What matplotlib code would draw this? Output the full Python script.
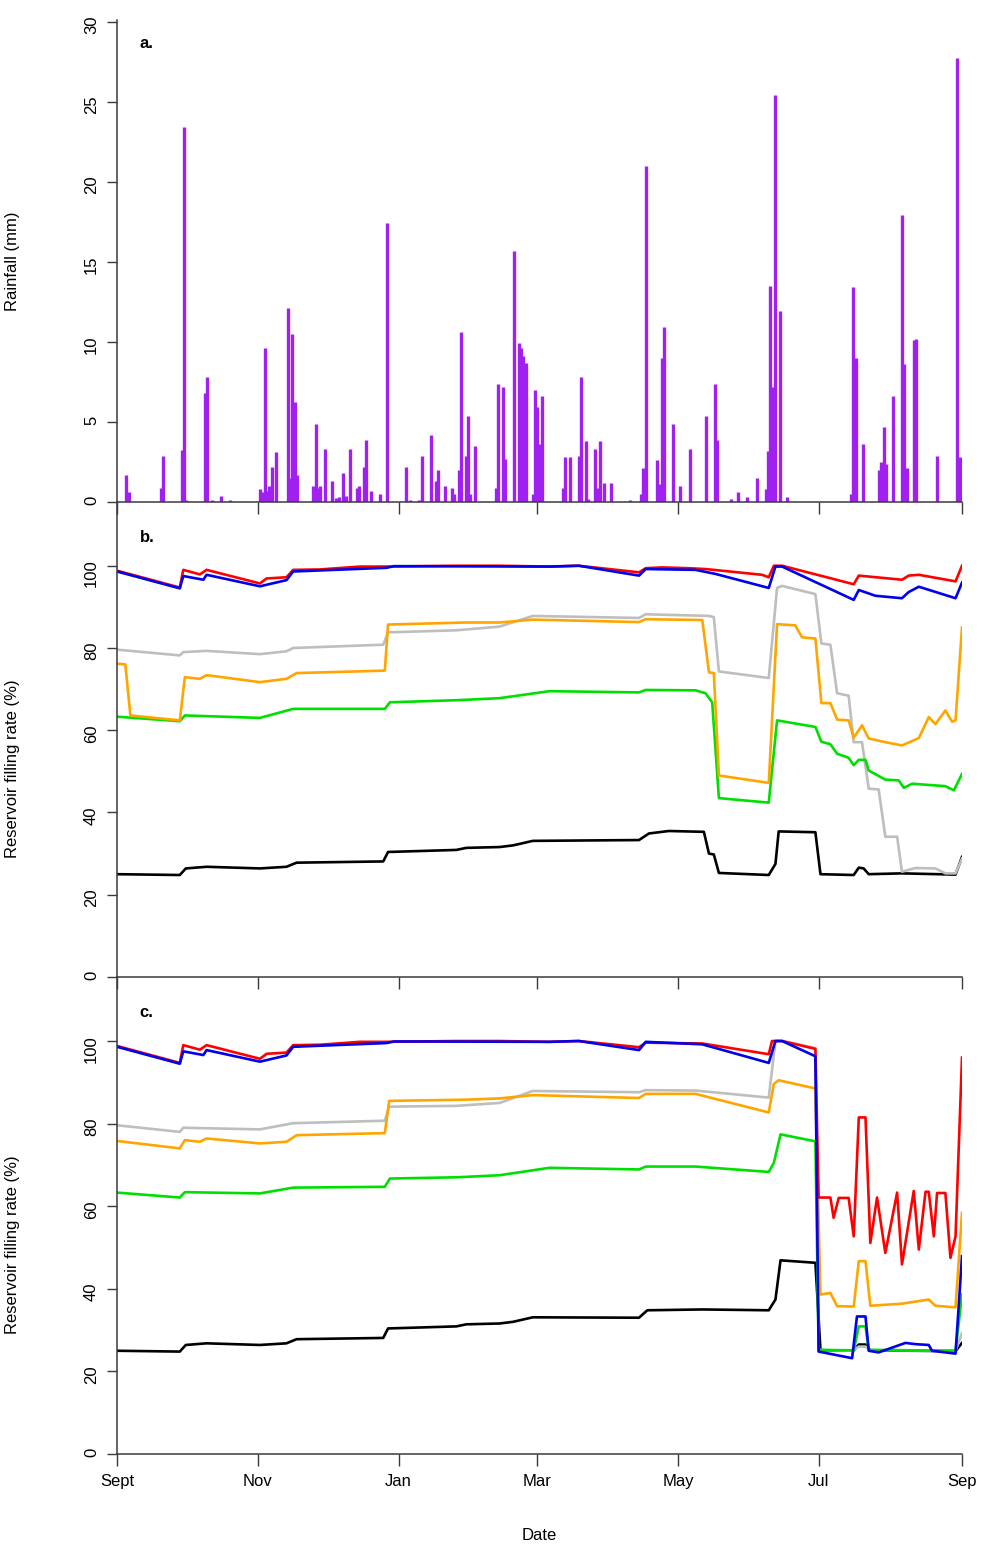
import matplotlib
matplotlib.use("Agg")
import matplotlib.pyplot as plt

plt.rcParams["font.family"] = ["Liberation Sans", "DejaVu Sans"]

# ---- x axis: days since 1 September (leap year, 366 days) ----
month_days = [0, 61, 122, 182, 243, 304, 366]
month_labels = ["Sept", "Nov", "Jan", "Mar", "May", "Jul", "Sep"]

# ---- panel a: daily rainfall ----
rain_day = [4, 5, 19, 20, 28, 29, 30, 38, 39, 41, 45, 49,
            62, 63, 64, 65, 66, 67, 69, 74, 75, 76, 77, 78,
            85, 86, 87, 88, 90, 93, 95, 96, 98, 99, 101, 104, 105, 107, 108, 110, 114, 117,
            125, 127, 131, 132, 136, 138, 139, 142, 145, 146, 148, 149, 151, 152, 153, 155,
            164, 165, 167, 168, 172, 174, 175, 176, 177, 180, 181, 182, 183, 184,
            193, 194, 196, 200, 201, 203, 204, 207, 208, 209, 211, 214, 222,
            227, 228, 229, 234, 235, 236, 237, 241, 244, 248, 255, 259, 260,
            266, 269, 273, 277, 281, 282, 283, 284, 285, 287, 290,
            318, 319, 320, 323, 330, 331, 332, 333, 336, 340, 341, 342, 345, 346, 355, 364, 365]
rain_mm = [1.7, 0.6, 0.9, 2.9, 3.25, 23.4, 0.1, 6.8, 7.8, 0.1, 0.4, 0.1,
           0.8, 0.6, 9.6, 0.7, 1.0, 2.2, 3.1, 12.1, 1.5, 10.5, 6.25, 1.7,
           1.0, 4.9, 0.9, 1.0, 3.3, 1.3, 0.25, 0.3, 1.8, 0.4, 3.3, 0.9, 1.0, 2.2, 3.9, 0.7, 0.5, 17.4,
           2.2, 0.1, 0.1, 2.9, 4.2, 1.3, 2.0, 1.0, 0.9, 0.5, 2.0, 10.6, 2.9, 5.4, 0.5, 3.5,
           0.9, 7.4, 7.2, 2.7, 15.7, 9.9, 9.6, 9.1, 8.7, 0.5, 7.0, 5.95, 3.6, 6.6,
           0.9, 2.8, 2.8, 2.9, 7.8, 3.8, 0.2, 3.3, 0.9, 3.8, 1.2, 1.2, 0.1,
           0.5, 2.1, 21.0, 2.6, 1.1, 9.0, 10.9, 4.9, 1.0, 3.3, 5.4, 7.4, 3.9,
           0.2, 0.6, 0.3, 1.5, 0.8, 3.2, 13.5, 7.2, 25.4, 11.9, 0.3,
           0.5, 13.4, 9.0, 3.6, 2.0, 2.5, 4.7, 2.4, 6.6, 17.9, 8.6, 2.1, 10.1, 10.2, 2.9, 27.7, 2.8]

# ---- panel b: reservoir filling rate, scenario b ----
b_red_day = [0, 27.2, 28.7, 35.9, 38.8, 61.9, 64.8, 73.4, 76.3, 87.9, 105.2, 116.7, 147, 165.7, 187.3,
             200, 226.1, 229, 236.1, 247.7, 254.9, 279.4, 282.3, 284.5, 288.1, 319.1, 321.3, 340, 342.9,
             347.3, 363.2, 366]
b_red_val = [98.8, 94.7, 99.0, 97.9, 99.0, 95.7, 96.9, 97.2, 99.0, 99.1, 99.8, 99.8, 100, 100, 99.8,
             100, 98.4, 99.4, 99.6, 99.4, 99.2, 97.8, 97.2, 100, 100, 95.5, 97.6, 96.6, 97.6,
             97.8, 96.2, 100]
b_blue_day = [0, 27.2, 28.7, 37.4, 38.8, 61.9, 73.4, 76.3, 116.7, 120, 187.3, 200, 226.1, 229, 250.6,
              259.3, 282.3, 285.2, 288.1, 319.1, 321.3, 328.5, 340, 342.9, 347.3, 363.2, 366]
b_blue_val = [98.6, 94.5, 97.5, 96.6, 97.8, 95.0, 96.5, 98.6, 99.5, 99.9, 99.8, 100, 97.6, 99.2, 99.0,
              98.0, 94.6, 99.8, 99.8, 91.7, 94.1, 92.7, 92.1, 93.6, 94.9, 92.1, 95.9]
b_grey_day = [0, 27.2, 28.7, 38.8, 61.9, 73.4, 76.3, 115.3, 117.4, 147, 165.7, 180.1, 226.1, 229,
              256.4, 258.5, 260.7, 282.3, 285.9, 288.1, 302.5, 305.1, 309, 311.9, 316.9, 319.1, 322.7,
              325.6, 329.9, 332.8, 337.9, 340, 345.8, 354.5, 358.8, 363.2, 366]
b_grey_val = [79.6, 78.2, 79.0, 79.3, 78.5, 79.2, 80.0, 80.8, 83.8, 84.3, 85.2, 87.8, 87.3, 88.2,
              87.8, 87.5, 74.3, 72.7, 94.6, 95.1, 93.1, 81.1, 80.8, 69.0, 68.4, 57.1, 57.1,
              45.8, 45.6, 34.1, 34.1, 25.6, 26.5, 26.4, 25.2, 25.2, 28.8]
b_orange_day = [0, 3.6, 5.8, 27.2, 29.4, 35.9, 38.8, 61.9, 73.4, 77.8, 116, 117.4, 151.3, 165.7, 180.1,
                226.1, 229, 253.5, 256.4, 258.5, 260.7, 282.3, 285.9, 293.8, 296.7, 302.5, 305.1, 309,
                311.9, 316.9, 319.1, 322.7, 325.6, 332.8, 340, 347.3, 351.6, 354.5, 358.8, 361.7,
                363.2, 366]
b_orange_val = [76.2, 76.0, 63.6, 62.4, 72.9, 72.5, 73.4, 71.7, 72.5, 73.9, 74.5, 85.7, 86.2, 86.2, 86.9,
                86.3, 87.0, 86.8, 74.1, 73.9, 49.0, 47.2, 85.8, 85.5, 82.6, 82.3, 66.6, 66.6,
                62.6, 62.4, 58.2, 61.2, 58.0, 57.1, 56.3, 58.1, 63.2, 61.5, 64.8, 62.1,
                62.4, 85.0]
b_green_day = [0, 27.2, 29.4, 61.9, 76.3, 116, 118.2, 147, 165.7, 187.3, 226.1, 229, 250.6, 254.9,
               257.8, 260.7, 282.3, 285.9, 302.5, 305.1, 309, 311.9, 316.9, 319.1, 321.3, 324.2,
               325.6, 332.8, 338.6, 340.8, 344.4, 358.8, 362.5, 366]
b_green_val = [63.3, 62.2, 63.6, 63.0, 65.2, 65.2, 66.8, 67.3, 67.8, 69.5, 69.2, 69.8, 69.7, 69.0,
               66.8, 43.5, 42.4, 62.4, 60.8, 57.2, 56.6, 54.3, 53.3, 51.5, 52.8, 52.8,
               50.2, 48.0, 47.8, 46.0, 47.0, 46.4, 45.4, 49.4]
b_black_day = [0, 27.2, 29.8, 38.8, 61.9, 73.4, 77.8, 115.3, 117.4, 147, 151.3, 165.7, 171.5, 180.1,
               226.1, 230.4, 239, 254.2, 256.4, 258.5, 260.7, 282.3, 285.2, 286.6, 302.5, 304.7,
               319.1, 321.3, 323.4, 325.6, 340, 363.2, 366]
b_black_val = [25.0, 24.8, 26.4, 26.8, 26.4, 26.8, 27.8, 28.1, 30.4, 30.9, 31.4, 31.6, 32.0, 33.1,
               33.3, 34.9, 35.5, 35.3, 30.0, 29.8, 25.3, 24.8, 27.5, 35.4, 35.2, 25.0,
               24.8, 26.6, 26.4, 25.0, 25.2, 24.9, 29.2]

# ---- panel c: reservoir filling rate, scenario c ----
c_red_day = [0, 27.2, 28.7, 35.9, 38.8, 61.9, 64.8, 73.4, 76.3, 87.9, 105.2, 116.7, 147, 165.7, 187.3,
             200, 226.1, 229, 253.5, 282.3, 283.7, 288.1, 302.5, 303.9, 309, 310.4, 312.6, 316.9,
             319.1, 321.3, 324.2, 326.3, 329.2, 332.8, 337.9, 340, 345.1, 347.3, 350.2, 351.6,
             353.8, 355.2, 358.8, 361, 363.2, 366]
c_red_val = [98.8, 94.7, 99.0, 97.9, 99.0, 95.7, 96.9, 97.2, 99.0, 99.1, 99.8, 99.8, 100, 100, 99.8,
             100, 98.5, 99.6, 99.4, 96.8, 100, 100, 98.1, 62.1, 62.1, 57.2, 62.0, 62.0,
             52.7, 81.5, 81.5, 51.1, 62.1, 48.7, 63.3, 45.9, 63.7, 49.5, 63.5, 63.5,
             52.7, 63.2, 63.2, 47.5, 52.7, 96.0]
c_blue_day = [0, 27.2, 28.7, 37.4, 38.8, 61.9, 73.4, 76.3, 116.7, 120, 187.3, 200, 226.1, 229, 253.5,
              282.3, 285.2, 288.1, 302.5, 303.9, 318.4, 320.5, 324.2, 325.6, 329.9, 341.5, 345.8,
              351.6, 353, 363.2, 366]
c_blue_val = [98.6, 94.5, 97.5, 96.6, 97.8, 95.0, 96.5, 98.6, 99.5, 99.9, 99.8, 100, 97.8, 99.8, 99.2,
              94.7, 100, 100, 96.3, 24.8, 23.2, 33.3, 33.3, 25.0, 24.6, 26.9, 26.6,
              26.4, 25.0, 24.3, 47.9]
c_grey_day = [0, 27.2, 28.7, 61.9, 76.3, 116, 117.9, 147, 165.7, 180.1, 226.1, 229, 250.6, 282.3,
              285.2, 288.1, 302.5, 303.9, 318.4, 321.3, 324.2, 326.3, 363.2, 366]
c_grey_val = [79.6, 78.0, 79.0, 78.6, 80.1, 80.7, 84.1, 84.3, 85.0, 87.9, 87.6, 88.1, 88.0, 86.3,
              100, 100, 98.3, 25.2, 25.0, 26.0, 26.0, 25.2, 25.0, 29.3]
c_orange_day = [0, 27.2, 29.4, 35.9, 38.8, 61.9, 73.4, 77.8, 116, 117.9, 151.3, 165.7, 180.1, 226.1,
                229, 250.6, 282.3, 284.5, 286.6, 302.5, 304.7, 309, 311.9, 319.1, 321.3, 324.2,
                326.3, 340, 351.6, 354.5, 363.2, 366]
c_orange_val = [75.8, 74.0, 76.0, 75.6, 76.4, 75.2, 75.6, 77.2, 77.7, 85.5, 85.8, 86.1, 86.9, 86.2,
                87.2, 87.2, 82.7, 89.6, 90.5, 88.5, 38.6, 39.0, 35.8, 35.7, 46.7, 46.7,
                35.9, 36.4, 37.4, 35.9, 35.5, 58.4]
c_green_day = [0, 27.2, 29.4, 61.9, 76.3, 116, 118.2, 147, 165.7, 187.3, 226.1, 229, 250.6, 282.3,
               284.5, 287.4, 302.5, 303.9, 319.1, 321.3, 324.2, 325.6, 363.2, 366]
c_green_val = [63.3, 62.1, 63.4, 63.1, 64.5, 64.7, 66.7, 67.0, 67.5, 69.3, 68.9, 69.6, 69.6, 68.3,
               70.5, 77.4, 75.7, 25.2, 25.1, 30.9, 30.9, 25.2, 25.0, 38.6]
c_black_day = [0, 27.2, 29.8, 38.8, 61.9, 73.4, 77.8, 115.3, 117.4, 147, 151.3, 165.7, 171.5, 180.1,
               226.1, 229.7, 253.5, 282.3, 285.2, 287.4, 302.5, 304.7, 319.1, 321.3, 324.2, 326.3,
               363.2, 366]
c_black_val = [25.0, 24.8, 26.4, 26.8, 26.4, 26.8, 27.8, 28.1, 30.4, 30.9, 31.4, 31.6, 32.0, 33.1,
               33.0, 34.8, 35.0, 34.8, 37.4, 46.9, 46.3, 25.1, 25.1, 26.5, 26.5, 25.1,
               24.9, 26.9]

# ---- figure ----
W, H = 982, 1545
fig = plt.figure(figsize=(W / 100, H / 100), dpi=100)

left_px, right_px = 117, 962


def axes_px(top, bottom):
    return fig.add_axes([left_px / W, (H - bottom) / H,
                         (right_px - left_px) / W, (bottom - top) / H])


ax_a = axes_px(20, 502)
ax_b = axes_px(502, 977)
ax_c = axes_px(977, 1454)

axis_col = "#3a3a3a"
for ax in (ax_a, ax_b, ax_c):
    ax.set_xlim(0, 366)
    ax.spines["top"].set_visible(False)
    ax.spines["right"].set_visible(False)
    for s in ("left", "bottom"):
        ax.spines[s].set_color(axis_col)
        ax.spines[s].set_linewidth(1.1)
    ax.set_xticks(month_days)
    ax.tick_params(axis="x", length=8.5, width=1.0, color=axis_col, pad=6,
                   labelsize=12)
    ax.tick_params(axis="y", length=7, width=1.0, color=axis_col, pad=6,
                   labelsize=12, labelrotation=90)
    ax.patch.set_alpha(0)

# panel a
ax_a.vlines(rain_day, 0, rain_mm, colors="#A020F0", linewidth=2.4, capstyle="butt")
ax_a.set_ylim(0, 30.1)
ax_a.set_yticks([0, 5, 10, 15, 20, 25, 30])
ax_a.set_xticklabels([])
ax_a.set_ylabel("Rainfall (mm)", fontsize=12)
ax_a.yaxis.set_label_coords(-0.115, 0.5)
ax_a.text(0.027, 0.952, "a.", transform=ax_a.transAxes, fontsize=12,
          fontweight="bold", va="center", ha="left")

line_kw = dict(linewidth=1.9, solid_joinstyle="round")


def draw_panel(ax, series):
    for days, vals, col in series:
        ax.plot(days, vals, color=col, **line_kw)
    ax.set_ylim(0, 115.5)
    ax.set_yticks([0, 20, 40, 60, 80, 100])
    ax.set_ylabel("Reservoir filling rate (%)", fontsize=12)
    ax.yaxis.set_label_coords(-0.115, (100 / 115.5) * 0.5 + 0.005)


draw_panel(ax_b, [
    (b_black_day, b_black_val, "black"),
    (b_grey_day, b_grey_val, "#BEBEBE"),
    (b_green_day, b_green_val, "#00E000"),
    (b_orange_day, b_orange_val, "#FFA500"),
    (b_red_day, b_red_val, "#FF0000"),
    (b_blue_day, b_blue_val, "#0000EE"),
])
ax_b.set_xticklabels([])
ax_b.text(0.027, 0.926, "b.", transform=ax_b.transAxes, fontsize=12,
          fontweight="bold", va="center", ha="left")

draw_panel(ax_c, [
    (c_black_day, c_black_val, "black"),
    (c_grey_day, c_grey_val, "#BEBEBE"),
    (c_green_day, c_green_val, "#00E000"),
    (c_orange_day, c_orange_val, "#FFA500"),
    (c_red_day, c_red_val, "#FF0000"),
    (c_blue_day, c_blue_val, "#0000EE"),
])
ax_c.set_xticklabels(month_labels)
ax_c.text(0.027, 0.925, "c.", transform=ax_c.transAxes, fontsize=12,
          fontweight="bold", va="center", ha="left")
ax_c.set_xlabel("Date", fontsize=12)
ax_c.xaxis.set_label_coords(0.5, -0.155)

fig.savefig("out.png", dpi=100)
